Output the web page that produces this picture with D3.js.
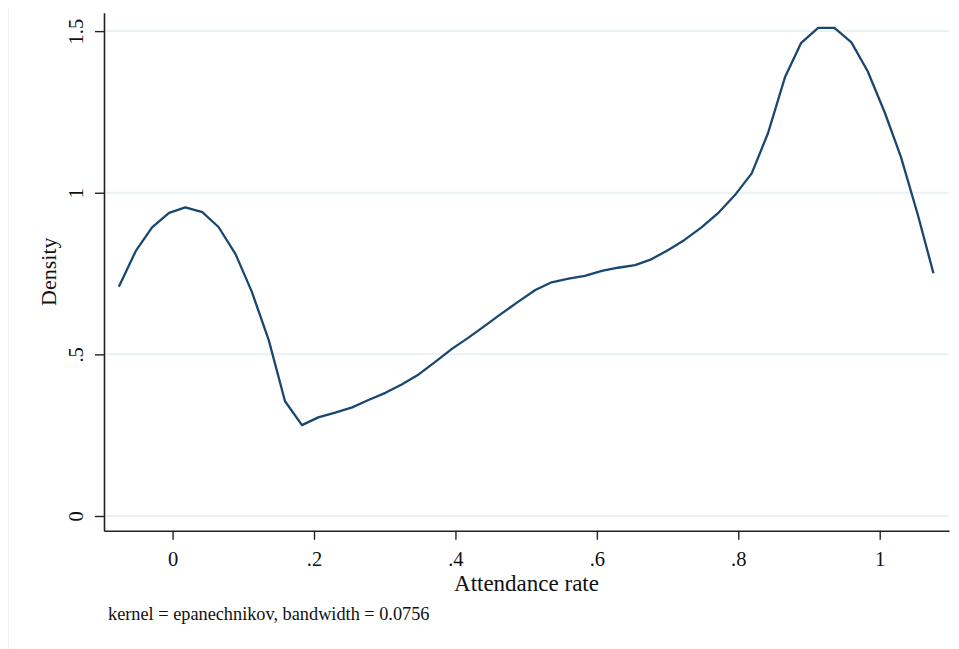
<!DOCTYPE html>
<html>
<head>
<meta charset="utf-8">
<script src="https://cdn.jsdelivr.net/npm/d3@7"></script>
<style>
  html, body { margin: 0; padding: 0; background: #fff; }
  svg { display: block; }
  text { font-family: "Liberation Serif", "DejaVu Serif", serif; fill: #111; }
</style>
</head>
<body>
<svg id="chart" width="959" height="649"></svg>
<script>
// ---- data ----
const xValues = [-0.076,-0.052,-0.029,-0.005,0.018,0.042,0.065,0.089,0.112,0.136,
  0.159,0.183,0.206,0.230,0.254,0.277,0.301,0.324,0.348,0.371,
  0.395,0.418,0.442,0.465,0.489,0.513,0.536,0.560,0.583,0.607,
  0.630,0.654,0.677,0.701,0.724,0.748,0.771,0.795,0.819,0.842,
  0.866,0.889,0.913,0.936,0.960,0.983,1.007,1.030,1.054,1.076];
const densityValues = [0.709,0.820,0.893,0.938,0.955,0.940,0.894,0.810,0.694,0.544,
  0.355,0.281,0.305,0.320,0.336,0.359,0.381,0.407,0.438,0.476,
  0.517,0.551,0.589,0.626,0.663,0.699,0.723,0.734,0.743,0.758,
  0.768,0.776,0.794,0.823,0.854,0.893,0.936,0.992,1.060,1.184,
  1.357,1.464,1.510,1.510,1.465,1.376,1.249,1.111,0.931,0.751];
const xTicks = [0, 0.2, 0.4, 0.6, 0.8, 1];
const xTickLabels = ["0", ".2", ".4", ".6", ".8", "1"];
const yTicks = [0, 0.5, 1, 1.5];
const yTickLabels = ["0", ".5", "1", "1.5"];
const xTitle = "Attendance rate";
const yTitle = "Density";
const note = "kernel = epanechnikov, bandwidth = 0.0756";

// ---- layout ----
const svg = d3.select("#chart");
const plotLeft = 104, plotRight = 949, plotTop = 12.7, plotBottom = 530.7;

const x = d3.scaleLinear().domain([-0.097, 1.098]).range([plotLeft, plotRight]);
const y = d3.scaleLinear().domain([-0.0455, 1.557]).range([plotBottom, plotTop]);

// faint outer frame line on the left
svg.append("line").attr("x1", 8.5).attr("x2", 8.5).attr("y1", 9).attr("y2", 649)
  .attr("stroke", "#eef1f1").attr("stroke-width", 1);

// gridlines
svg.append("g").selectAll("line").data(yTicks).join("line")
  .attr("x1", plotLeft).attr("x2", plotRight)
  .attr("y1", d => y(d)).attr("y2", d => y(d))
  .attr("stroke", "#eaf1f4").attr("stroke-width", 2);

// density line
const line = d3.line().x((d, i) => x(xValues[i])).y(d => y(d));
svg.append("path").datum(densityValues)
  .attr("d", line).attr("fill", "none")
  .attr("stroke", "#1a476f").attr("stroke-width", 2.3)
  .attr("stroke-linejoin", "round");

// x axis
const xAxis = d3.axisBottom(x).tickValues(xTicks)
  .tickFormat((d, i) => xTickLabels[i]).tickSize(9).tickPadding(7).tickSizeOuter(0);
const gx = svg.append("g").attr("transform", `translate(0,${plotBottom})`).call(xAxis);
gx.select(".domain").attr("stroke", "#222").attr("stroke-width", 1.6);
gx.selectAll(".tick line").attr("stroke", "#222").attr("stroke-width", 1.4);
gx.selectAll(".tick text").attr("font-size", 20.5).attr("fill", "#111")
  .attr("font-family", "Liberation Serif, serif").attr("dy", null).attr("y", 35.5);

// y axis
const yAxis = d3.axisLeft(y).tickValues(yTicks)
  .tickFormat((d, i) => yTickLabels[i]).tickSize(9).tickSizeOuter(0);
const gy = svg.append("g").attr("transform", `translate(${plotLeft},0)`).call(yAxis);
gy.select(".domain").attr("stroke", "#222").attr("stroke-width", 1.6);
gy.selectAll(".tick line").attr("stroke", "#222").attr("stroke-width", 1.4);
gy.selectAll(".tick text")
  .attr("font-size", 20.5).attr("fill", "#111")
  .attr("font-family", "Liberation Serif, serif")
  .attr("x", null).attr("dy", null)
  .attr("text-anchor", "middle")
  .attr("transform", "translate(-21,0) rotate(-90)");

// axis titles
svg.append("text").attr("x", (plotLeft + plotRight) / 2).attr("y", 590.5)
  .attr("text-anchor", "middle").attr("font-size", 23).text(xTitle);
svg.append("text")
  .attr("transform", `translate(56,${(plotTop + plotBottom) / 2}) rotate(-90)`)
  .attr("text-anchor", "middle").attr("font-size", 22).text(yTitle);

// note
svg.append("text").attr("x", 108).attr("y", 620)
  .attr("font-size", 18.3).text(note);
</script>
</body>
</html>
